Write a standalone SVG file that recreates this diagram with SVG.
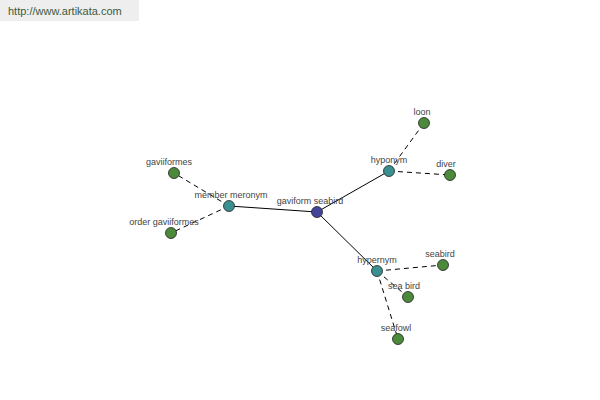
<svg xmlns="http://www.w3.org/2000/svg" width="600" height="400" viewBox="0 0 600 400">
<style>
.lbl{font-family:"Liberation Sans",Arial,sans-serif;font-size:9px;fill:#444;text-anchor:middle}
.n{stroke:#222;stroke-width:0.8}
.root{fill:#44449a}
.rel{fill:#3a9090}
.leaf{fill:#4a8a3a}
.solid{stroke:#000;stroke-width:1;fill:none}
.dash{stroke:#000;stroke-width:1;stroke-dasharray:5,4;fill:none}
</style>
<rect x="0" y="0" width="139" height="21" fill="#eeeeee"/>
<text x="8" y="15" font-family="Liberation Sans,Arial,sans-serif" font-size="11" fill="#3d5a3d">http://www.artikata.com</text>
<g id="connectors">
<line class="solid" x1="317" y1="212" x2="229" y2="206"/>
<line class="solid" x1="317" y1="212" x2="389" y2="171"/>
<line class="solid" x1="317" y1="212" x2="377" y2="271"/>
<line class="dash" x1="229" y1="206" x2="174" y2="173"/>
<line class="dash" x1="229" y1="206" x2="171" y2="233"/>
<line class="dash" x1="389" y1="171" x2="424" y2="123"/>
<line class="dash" x1="389" y1="171" x2="450" y2="175"/>
<line class="dash" x1="377" y1="271" x2="443" y2="265"/>
<line class="dash" x1="377" y1="271" x2="408" y2="297"/>
<line class="dash" x1="377" y1="271" x2="398" y2="339"/>
</g>
<g id="gaviform-seabird"><circle class="n root" cx="317" cy="212" r="5.5"/><text class="lbl" x="310" y="204">gaviform seabird</text></g>
<g id="member-meronym"><circle class="n rel" cx="229" cy="206" r="5.5"/><text class="lbl" x="231" y="198">member meronym</text></g>
<g id="hyponym"><circle class="n rel" cx="389" cy="171" r="5.5"/><text class="lbl" x="389" y="163">hyponym</text></g>
<g id="hypernym"><circle class="n rel" cx="377" cy="271" r="5.5"/><text class="lbl" x="377" y="263">hypernym</text></g>
<g id="gaviiformes"><circle class="n leaf" cx="174" cy="173" r="5.5"/><text class="lbl" x="169" y="165">gaviiformes</text></g>
<g id="order-gaviiformes"><circle class="n leaf" cx="171" cy="233" r="5.5"/><text class="lbl" x="164" y="225">order gaviiformes</text></g>
<g id="loon"><circle class="n leaf" cx="424" cy="123" r="5.5"/><text class="lbl" x="422" y="115">loon</text></g>
<g id="diver"><circle class="n leaf" cx="450" cy="175" r="5.5"/><text class="lbl" x="446" y="167">diver</text></g>
<g id="seabird"><circle class="n leaf" cx="443" cy="265" r="5.5"/><text class="lbl" x="440" y="257">seabird</text></g>
<g id="sea-bird"><circle class="n leaf" cx="408" cy="297" r="5.5"/><text class="lbl" x="404" y="289">sea bird</text></g>
<g id="seafowl"><circle class="n leaf" cx="398" cy="339" r="5.5"/><text class="lbl" x="396" y="331">seafowl</text></g>
</svg>
